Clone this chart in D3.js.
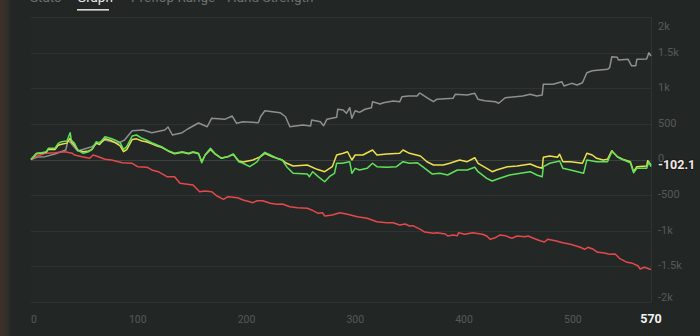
<!DOCTYPE html>
<html><head><meta charset="utf-8">
<script src="https://cdn.jsdelivr.net/npm/d3@7"></script>
<style>
html,body{margin:0;padding:0;background:#222725;overflow:hidden}
svg{display:block}
text{font-family:Roboto,"Liberation Sans",Arial,sans-serif}
</style></head><body>
<svg id="c" width="700" height="336"></svg>
<script>
// ---- data ----
const tabs = ["Stats", "Graph", "Preflop Range", "Hand Strength"];
const activeTab = "Graph";
const xTicks = [0, 100, 200, 300, 400, 500];
const totalHands = 570;
const yTicks = [2000, 1500, 1000, 500, 0, -500, -1000, -1500, -2000];
const yTickLabels = ["2k", "1.5k", "1k", "500", "0", "-500", "-1k", "-1.5k", "-2k"];
const finalValue = -102.1;

// [hand, amount]
const grayLine = [[0,0],[6,35],[13,40],[22,77],[32,133],[34,274],[43,119],[56,180],[61,232],[68,274],[80,227],[86,274],[93,404],[103,414],[111,376],[123,414],[126,456],[130,344],[139,376],[144,428],[154,512],[162,460],[166,578],[178,564],[185,610],[189,508],[195,530],[209,516],[211,600],[215,685],[229,657],[234,600],[238,460],[243,470],[250,484],[257,470],[258,554],[266,530],[269,474],[272,564],[281,592],[282,705],[287,695],[290,648],[293,727],[295,578],[298,685],[302,662],[307,705],[313,727],[314,811],[321,779],[324,797],[333,821],[339,811],[341,881],[347,891],[355,891],[357,929],[358,929],[365,859],[370,811],[373,845],[388,859],[390,915],[401,905],[408,929],[411,845],[417,825],[427,811],[430,789],[436,867],[452,891],[459,915],[465,891],[470,905],[471,1055],[480,1055],[488,1092],[490,1032],[497,1069],[502,1046],[507,1078],[511,1218],[516,1246],[530,1266],[532,1288],[534,1443],[539,1434],[540,1396],[549,1406],[552,1317],[556,1317],[557,1406],[566,1411],[568,1499],[570,1453]];

const redLine = [[0,0],[4,39],[13,87],[22,95],[31,109],[38,87],[40,63],[47,39],[54,17],[57,63],[62,39],[68,3],[74,-7],[84,-45],[93,-53],[98,-101],[107,-109],[111,-147],[117,-171],[125,-241],[132,-241],[137,-334],[149,-358],[155,-452],[160,-442],[166,-452],[171,-512],[177,-559],[181,-522],[190,-536],[195,-568],[201,-592],[204,-606],[208,-578],[213,-578],[220,-615],[226,-629],[231,-625],[238,-662],[245,-676],[254,-685],[258,-708],[264,-755],[268,-747],[270,-793],[277,-779],[284,-747],[291,-769],[300,-803],[309,-825],[318,-873],[327,-887],[333,-887],[339,-919],[344,-905],[348,-933],[351,-929],[358,-980],[362,-1018],[370,-1036],[373,-1027],[381,-1046],[383,-1074],[388,-1060],[392,-1069],[393,-1027],[399,-1050],[406,-1027],[415,-1050],[419,-1074],[422,-1120],[427,-1098],[431,-1060],[436,-1069],[442,-1106],[447,-1074],[454,-1083],[457,-1074],[462,-1106],[468,-1140],[472,-1158],[475,-1120],[482,-1140],[489,-1168],[496,-1190],[505,-1232],[509,-1260],[512,-1232],[517,-1260],[521,-1302],[526,-1308],[532,-1330],[537,-1326],[541,-1387],[548,-1443],[553,-1457],[558,-1491],[560,-1537],[564,-1513],[569,-1541],[570,-1541]];

const yellowLine = [[0,0],[5,80],[10,90],[14,100],[16,145],[22,140],[25,200],[28,215],[33,230],[36,300],[37,250],[40,200],[43,130],[48,110],[53,120],[56,140],[60,230],[63,210],[68,290],[73,270],[77,240],[82,190],[85,110],[88,140],[93,280],[97,290],[102,260],[106,250],[111,220],[116,190],[120,170],[126,120],[132,80],[139,100],[145,80],[149,100],[154,80],[157,-30],[160,60],[165,140],[169,80],[175,20],[181,40],[186,70],[191,-20],[195,-35],[204,-7],[211,39],[215,87],[222,39],[231,-7],[235,-53],[241,-91],[254,-77],[263,-138],[270,-171],[277,-101],[281,63],[287,87],[291,109],[295,-7],[298,63],[305,63],[314,133],[318,63],[327,77],[339,87],[342,133],[348,87],[358,49],[364,-31],[370,-77],[379,-77],[385,-53],[394,-7],[401,-31],[408,25],[411,-53],[419,-124],[424,-171],[428,-147],[438,-101],[447,-91],[459,-63],[465,-101],[470,-124],[471,31],[477,49],[484,31],[486,73],[489,-31],[496,-31],[507,-53],[511,87],[516,63],[520,17],[526,-7],[530,3],[534,124],[539,39],[544,3],[551,-31],[554,-171],[557,-101],[566,-91],[567,-17],[570,-77]];

const greenLine = [[0,0],[5,87],[10,95],[14,109],[16,157],[22,157],[25,227],[28,250],[33,260],[36,376],[37,274],[40,227],[43,133],[48,87],[53,109],[56,143],[60,250],[63,227],[68,320],[73,298],[77,274],[82,236],[85,143],[88,180],[93,330],[97,344],[102,298],[106,274],[111,236],[116,204],[120,180],[126,124],[132,87],[139,109],[145,87],[149,109],[154,87],[157,-45],[160,63],[165,157],[169,87],[175,17],[181,39],[186,77],[191,-31],[195,-53],[201,-101],[208,-31],[211,49],[215,101],[220,63],[226,17],[231,-7],[235,-101],[241,-194],[254,-204],[256,-241],[259,-171],[264,-241],[270,-312],[275,-232],[279,-194],[281,-53],[286,-53],[293,-31],[295,-194],[298,-124],[302,-147],[309,-124],[314,-53],[318,-101],[327,-109],[336,-101],[342,-31],[348,-53],[355,-45],[360,-101],[369,-204],[376,-194],[383,-218],[392,-147],[401,-147],[408,-109],[411,-171],[419,-264],[424,-302],[431,-264],[440,-218],[450,-194],[459,-171],[465,-218],[470,-241],[471,-101],[477,-53],[486,-21],[489,-124],[496,-147],[508,-194],[511,-7],[520,-31],[530,-31],[534,109],[541,17],[551,-45],[554,-185],[557,-124],[566,-124],[568,-31],[570,-102.1]];

const series = [
  {name:"gray", data: grayLine, color:"#8e8f8e"},
  {name:"red", data: redLine, color:"#e5484a"},
  {name:"yellow", data: yellowLine, color:"#ece04e"},
  {name:"green", data: greenLine, color:"#5fe25a"}
];

// ---- layout ----
const W = 700, H = 336;
const pL = 31, pR = 651, pT = 17, pB = 302;
const svg = d3.select("#c");

const defs = svg.append("defs");
const g1 = defs.append("linearGradient").attr("id","edge").attr("x1","0").attr("x2","1");
g1.append("stop").attr("offset","0").attr("stop-color","#3e3027");
g1.append("stop").attr("offset","0.6").attr("stop-color","#33302b");
g1.append("stop").attr("offset","1").attr("stop-color","#222725");
svg.append("rect").attr("width",W).attr("height",H).attr("fill","#222725");
svg.append("rect").attr("x",0).attr("y",0).attr("width",11).attr("height",H).attr("fill","url(#edge)");

const x = d3.scaleLinear().domain([0,totalHands]).range([pL,pR]);
const y = d3.scaleLinear().domain([-2000,2000]).range([pB,pT]);

svg.append("rect").attr("x",pL).attr("y",pT).attr("width",pR-pL).attr("height",pB-pT)
  .attr("fill","#232826");

svg.append("g").selectAll("line").data(yTicks).join("line")
  .attr("x1",pL).attr("x2",pR)
  .attr("y1",d=>Math.round(y(d))+0.5).attr("y2",d=>Math.round(y(d))+0.5)
  .attr("stroke",d=>d===0?"#3b413e":"#2d3330").attr("stroke-width",1);
svg.append("line").attr("x1",pR+0.5).attr("x2",pR+0.5).attr("y1",pT).attr("y2",pB)
  .attr("stroke","#2f3532");

const tabX = [30, 77, 131, 227];
svg.append("g").selectAll("text").data(tabs).join("text")
  .attr("x",(d,i)=>tabX[i]).attr("y",2)
  .attr("font-size",13.5)
  .attr("fill",d=>d===activeTab?"#e6e6e6":"#6c716e")
  .text(d=>d);
svg.append("rect").attr("x",77).attr("y",9).attr("width",32).attr("height",1.6).attr("fill","#d8d8d8");

svg.append("g").selectAll("text").data(yTicks).join("text")
  .attr("x",658)
  .attr("y",(d)=>{ let v=y(d); if(d===2000) v=27.5; if(d===-2000) v=298.5; return v; })
  .attr("dominant-baseline","middle")
  .attr("font-size",11).attr("fill","#545a57")
  .text((d,i)=>yTickLabels[i]);

svg.append("g").selectAll("text").data(xTicks).join("text")
  .attr("x",d=>d===0?x(0):x(d)-2)
  .attr("y",320)
  .attr("dominant-baseline","middle")
  .attr("text-anchor",d=>d===0?"start":"middle")
  .attr("font-size",10.5).attr("fill","#545a57")
  .text(d=>d);
svg.append("text").attr("x",x(totalHands)).attr("y",320)
  .attr("dominant-baseline","middle").attr("text-anchor","middle")
  .attr("font-size",12.5).attr("font-weight","bold").attr("fill","#f2f2f2")
  .text(totalHands);

const line = d3.line().x(d=>x(d[0])).y(d=>y(d[1])).curve(d3.curveLinear);
svg.append("g").selectAll("path").data(series).join("path")
  .attr("d",d=>line(d.data))
  .attr("fill","none")
  .attr("stroke",d=>d.color)
  .attr("stroke-width",1.5)
  .attr("stroke-linejoin","round");

svg.append("text").attr("x",658).attr("y",y(finalValue)-1)
  .attr("dominant-baseline","middle")
  .attr("font-size",12.5).attr("font-weight","bold")
  .attr("fill","#f3e6e4")
  .attr("stroke","#1a1d1c").attr("stroke-width",2.5).attr("paint-order","stroke")
  .text(finalValue.toFixed(1));
</script>
</body></html>
